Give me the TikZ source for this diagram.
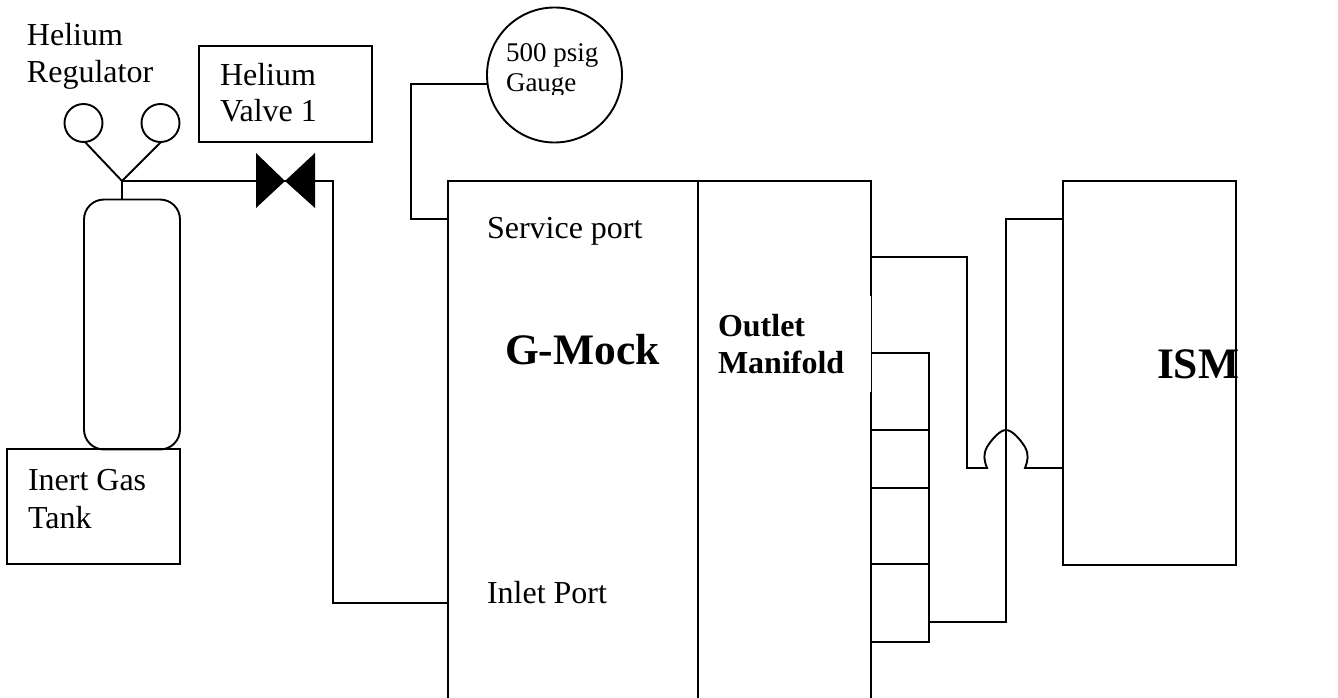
\documentclass[tikz,border=0pt]{standalone}
\usepackage{fontspec}
\setmainfont{Liberation Serif}
\tikzset{
  ln/.style={draw=black,line width=1.9pt,line join=miter},
  lab/.style={anchor=base west,inner sep=0pt,outer sep=0pt,align=left},
  lbl/.style={lab,font=\fontsize{32}{37}\selectfont},
  big/.style={lab,font=\fontsize{43.5}{48}\selectfont\bfseries},
  bld/.style={lab,font=\fontsize{32}{37}\selectfont\bfseries},
  sm/.style={lab,font=\fontsize{27}{32}\selectfont}
}
\begin{document}
\begin{tikzpicture}[x=1pt,y=-1pt]
\useasboundingbox (0,0) rectangle (1338,698);
% regulator
\node[ln,circle,minimum size=38pt,inner sep=0pt] (g1) at (83.5,123) {};
\node[ln,circle,minimum size=38pt,inner sep=0pt] (g2) at (160.5,123) {};
\coordinate (y) at (122,181);
\draw[ln] (85,142) -- (y) -- (161,142);
\node[ln,rounded corners=20pt,minimum width=96pt,minimum height=250pt,inner sep=0pt] (cyl) at (132,324.5) {};
\draw[ln] (y) -- (cyl.north -| y);
\node[ln,minimum width=173pt,minimum height=115pt,inner sep=0pt] (tank) at (93.5,506.5) {};
\node[lbl] (t1) at (27,46) {Helium};
\node[lbl] (t2) at (27,83) {Regulator};
\node[lbl] (t3) at (28,490) {Inert Gas};
\node[lbl] (t4) at (28,528) {Tank};
% valve box
\node[ln,minimum width=173pt,minimum height=96pt,inner sep=0pt] (vb) at (285.5,94) {};
\node[lbl] (t5) at (220,86) {Helium};
\node[lbl] (t6) at (220,122) {Valve 1};
\node[inner sep=0pt,minimum size=0pt] (vc) at (285,181) {};
\fill[black] (256,153) -- (vc.center) -- (256,208) -- cycle;
\fill[black] (315,153) -- (vc.center) -- (315,208) -- cycle;
\draw[ln] (y) -- (vc.center);
% gauge
\node[ln,circle,minimum size=135pt,inner sep=0pt] (gauge) at (554.5,75) {};
\begin{scope}
\clip (490,30) rectangle (610,95);
\node[sm] (t7) at (506,62) {500 psig};
\node[sm] (t8) at (506,92) {Gauge};
\end{scope}
% main blocks
\coordinate (a) at (448,181);
\coordinate (b) at (698,181);
\coordinate (c) at (871,181);
\draw[ln] (448,698) -- (a) -- (c) -- (871,296);
\draw[line width=.9pt] (871,296) -- (871,392);
\draw[ln] (871,392) -- (871,698);
\draw[ln] (b) -- (698,698);
\node[lbl] (t9) at (487,238) {Service port};
\node[lbl] (t10) at (487,603) {Inlet Port};
\node[big] (t11) at (505,364) {G-Mock};
\node[bld] (t12) at (718,336) {Outlet};
\node[bld] (t13) at (718,373) {Manifold};
\node[big] (t14) at (1157,378) {ISM};
% lines to G-Mock
\draw[ln] (vc.center) -- (333,181) -- (333,603) -- (448,603);
\draw[ln] (487.5,84) -- (411,84) -- (411,219) -- (448,219);
% outlet ports
\draw[ln] (871,353) -- (929,353) -- (929,642) -- (871,642);
\draw[ln] (871,430) -- (929,430);
\draw[ln] (871,488) -- (929,488);
\draw[ln] (871,564) -- (929,564);
% ISM
\node[ln,minimum width=173pt,minimum height=384pt,inner sep=0pt] (ism) at (1149.5,373) {};
\draw[ln] (871,257) -- (967,257) -- (967,468) -- (987,468)
  .. controls (984,460) and (983,455) .. (987,447)
  .. controls (992,439) and (1000,430) .. (1006,430)
  .. controls (1012,430) and (1020,439) .. (1025,447)
  .. controls (1029,455) and (1028,460) .. (1025,468)
  -- (1063,468);
\draw[ln] (929,622) -- (1006,622) -- (1006,219) -- (1063,219);
\end{tikzpicture}
\end{document}
